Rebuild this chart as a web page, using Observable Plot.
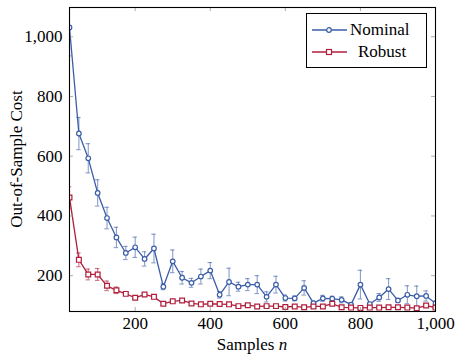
<!DOCTYPE html>
<html><head><meta charset="utf-8">
<script src="https://cdn.jsdelivr.net/npm/d3@7"></script>
<script src="https://cdn.jsdelivr.net/npm/@observablehq/plot@0.6"></script>
<style>
body{margin:0;background:#fff;}
#wrap{position:relative;width:457px;height:355px;font-family:"Liberation Serif","DejaVu Serif",serif;}
#wrap svg text{font-family:"Liberation Serif","DejaVu Serif",serif;}
#legend{position:absolute;left:306px;top:13px;width:121px;height:55px;border:1px solid #000;background:#fff;box-sizing:border-box;}
.row{position:absolute;left:5px;height:20px;display:flex;align-items:center;font-size:17px;color:#000;font-family:"Liberation Serif","DejaVu Serif",serif;}
.row svg{margin-right:3px;}
</style></head><body><div id="wrap"></div>
<script>
const n = [25,50,75,100,125,150,175,200,225,250,275,300,325,350,375,400,425,450,475,500,525,550,575,600,625,650,675,700,725,750,775,800,825,850,875,900,925,950,975,1000];
const nominal = [1031,676,593,477,393,328,276,295,256,291,163,248,193,176,197,217,136,179,163,170,170,129,170,125,124,159,108,124,123,119,103,170,105,127,155,117,136,131,132,107];
const nominalErr = [95,54,49,44,36,34,22,34,24,48,10,38,21,15,25,27,11,46,15,20,30,17,28,10,8,24,6,10,8,10,5,48,5,13,35,6,30,34,17,8];
const robust = [462,253,204,204,166,151,139,126,137,129,106,114,117,107,104,106,105,104,98,101,97,98,98,95,97,94,97,97,106,94,93,92,93,93,94,94,93,91,100,93];
const robustErr = [36,23,18,20,16,11,5,4,4,4,3,3,4,3,3,3,3,3,3,3,3,3,3,3,3,3,3,3,6,3,3,3,3,3,3,3,3,3,4,3];
const seriesNames = ["Nominal","Robust"];
const seriesColors = ["#3A5DA8","#B01E3C"];
const xTicks = [200,400,600,800,1000];
const yTicks = [200,400,600,800,1000];
const xLabel = "Samples ";
const xLabelVar = "n";
const yLabel = "Out-of-Sample Cost";

const FONT = '"Liberation Serif","DejaVu Serif",serif';
const nomRows = n.map((v,i)=>({n:v, value:nominal[i], err:nominalErr[i], series:seriesNames[0]}));
const robRows = n.map((v,i)=>({n:v, value:robust[i], err:robustErr[i], series:seriesNames[1]}));

const W=457, H=355, mT=7, mB=44, mL=69, mR=22;
const fmt = d3.format(",");

function errMarks(rows, color){
  return [
    Plot.ruleX(rows,{x:"n", y1:d=>d.value-d.err, y2:d=>d.value+d.err, stroke:color, strokeOpacity:0.6, strokeWidth:1.1, clip:true}),
    Plot.ruleY(rows,{y:d=>d.value+d.err, x1:d=>d.n-6, x2:d=>d.n+6, stroke:color, strokeOpacity:0.6, strokeWidth:1.1, clip:true}),
    Plot.ruleY(rows,{y:d=>d.value-d.err, x1:d=>d.n-6, x2:d=>d.n+6, stroke:color, strokeOpacity:0.6, strokeWidth:1.1, clip:true})
  ];
}

const chart = Plot.plot({
  width:W, height:H, marginTop:mT, marginBottom:mB, marginLeft:mL, marginRight:mR,
  style:{fontFamily:FONT, fontSize:"17px", color:"#000", background:"#fff"},
  x:{domain:[25,1000]},
  y:{domain:[80,1098]},
  marks:[
    ...errMarks(nomRows, seriesColors[0]),
    ...errMarks(robRows, seriesColors[1]),
    Plot.line(nomRows,{x:"n", y:"value", stroke:seriesColors[0], strokeWidth:1.3, clip:true}),
    Plot.line(robRows,{x:"n", y:"value", stroke:seriesColors[1], strokeWidth:1.3, clip:true}),
    Plot.dot(nomRows,{x:"n", y:"value", symbol:"circle", r:2.3, fill:"#fff", stroke:seriesColors[0], strokeWidth:1.2, clip:true}),
    Plot.dot(robRows,{x:"n", y:"value", symbol:"square", r:2.7, fill:"#fff", stroke:seriesColors[1], strokeWidth:1.2, clip:true}),
    Plot.tickX(xTicks,{x:d=>d, insetTop:H-mT-mB-4, stroke:"#999", strokeWidth:0.8}),
    Plot.tickX(xTicks,{x:d=>d, insetBottom:H-mT-mB-4, stroke:"#999", strokeWidth:0.8}),
    Plot.tickY(yTicks,{y:d=>d, insetRight:W-mL-mR-4, stroke:"#999", strokeWidth:0.8}),
    Plot.tickY(yTicks,{y:d=>d, insetLeft:W-mL-mR-4, stroke:"#999", strokeWidth:0.8}),
    Plot.axisX(xTicks,{tickSize:0, tickPadding:5, tickFormat:fmt, label:null, fontSize:17}),
    Plot.axisY(yTicks,{tickSize:0, tickPadding:7, tickFormat:fmt, label:null, fontSize:17}),
    Plot.frame({stroke:"#000", strokeWidth:1.1})
  ]
});
const wrap = document.getElementById("wrap");
wrap.appendChild(chart);

const svg = d3.select(chart);
const xl = svg.append("text").attr("x",(mL+W-mR)/2).attr("y",350).attr("text-anchor","middle")
  .attr("font-size",17).attr("font-family",FONT).attr("fill","#000");
xl.append("tspan").text(xLabel);
xl.append("tspan").attr("font-style","italic").text(xLabelVar);
svg.append("text").attr("transform",`translate(22,${(mT+H-mB)/2}) rotate(-90)`).attr("text-anchor","middle")
  .attr("font-size",17).attr("font-family",FONT).attr("fill","#000").text(yLabel);

const legend = document.createElement("div");
legend.id="legend";
const symbols = ['<circle cx="17" cy="7" r="2.3" fill="#fff" stroke="COL" stroke-width="1.2"/>',
                 '<rect x="14.5" y="4.5" width="5" height="5" fill="#fff" stroke="COL" stroke-width="1.2"/>'];
seriesNames.forEach((name,i)=>{
  const row=document.createElement("div");
  row.className="row";
  row.style.top=(i===0?6:28)+"px";
  row.innerHTML=`<svg width="35" height="14"><line x1="0" y1="7" x2="35" y2="7" stroke="${seriesColors[i]}" stroke-width="1.3"/>${symbols[i].replace("COL",seriesColors[i])}</svg><span style="margin-left:${i===0?0:8}px">${name}</span>`;
  legend.appendChild(row);
});
wrap.appendChild(legend);
</script></body></html>
